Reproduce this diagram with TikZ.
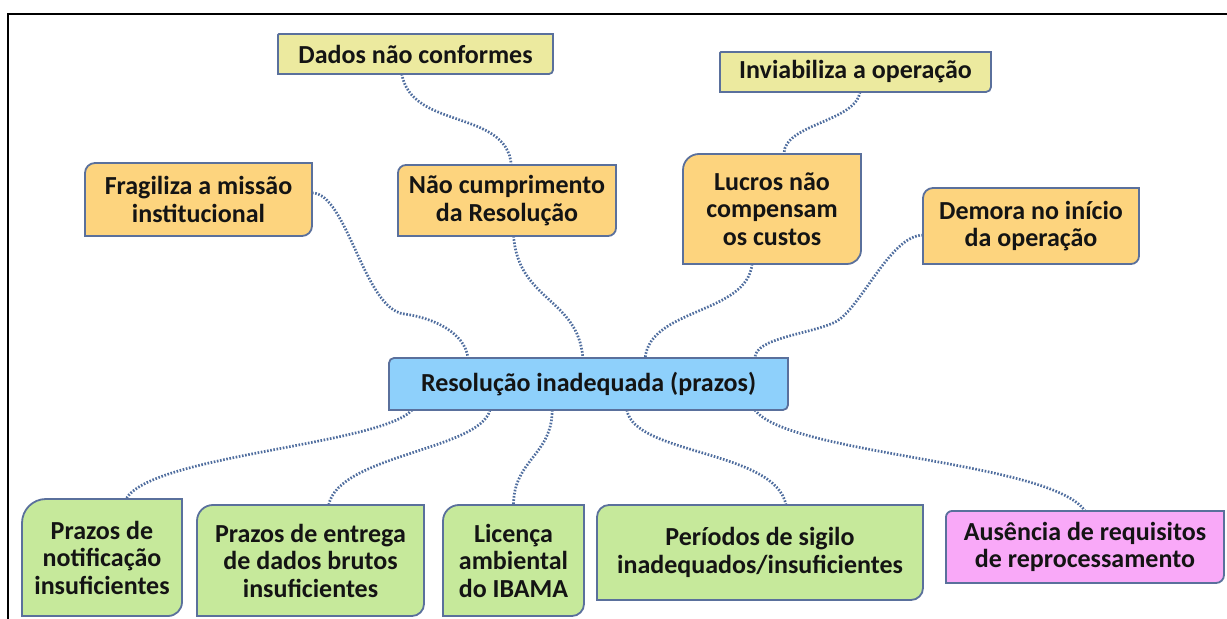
\documentclass[tikz,border=0pt]{standalone}
\usepackage{fontspec}
\setmainfont{Carlito}
\usetikzlibrary{calc,backgrounds}

\definecolor{paleyellow}{HTML}{ECEA9F}
\definecolor{softorange}{HTML}{FDD47E}
\definecolor{skyblue}{HTML}{8ED0FB}
\definecolor{leafgreen}{HTML}{C6E99B}
\definecolor{softpink}{HTML}{F9A9F8}
\definecolor{edgeblue}{HTML}{5A709C}
\definecolor{linkblue}{HTML}{4F6D9E}

% outline of a box: node, fill, top-left radius, bottom-right radius
\newcommand{\tagframe}[4]{%
	\filldraw[edge, fill=#2]
		([yshift=-#3]#1.north west) arc[start angle=180, end angle=90, radius=#3]
		-- (#1.north east) -- ([yshift=#4]#1.south east)
		arc[start angle=0, end angle=-90, radius=#4] -- (#1.south west) -- cycle;}

\begin{document}
\begin{tikzpicture}[x=0.5pt, y=-0.5pt,
		txt/.style={inner sep=0pt, outer sep=0pt, align=center, text=black!92,
			font=\fontsize{13}{13.75}\selectfont\bfseries},
		dim/.style 2 args={minimum width=#1*0.5pt, minimum height=#2*0.5pt},
		edge/.style={draw=edgeblue, line width=0.9pt},
		link/.style={draw=linkblue, line width=1.35pt, dash pattern=on 0.8pt off 0.8pt}]
		\useasboundingbox (0,0) rectangle (1227,619);
		\draw[line width=1.2pt] (8,619) -- (8,14) -- (1227,14);

		% effects
		\node[txt, dim={275}{40}]	(dados)	at (415.5,54)	{Dados não conformes};
		\node[txt, dim={271}{40}]	(invi)	at (855.5,72)	{Inviabiliza a operação};
		\node[txt, dim={227}{73}]	(frag)	at (198.5,199.5)	{Fragiliza a missão\\institucional};
		\node[txt, dim={218}{71}]	(naocump)	at (507,200.5)	{Não cumprimento\\da Resolução};
		\node[txt, dim={178}{110}]	(lucros)	at (772,209)	{Lucros não\\compensam\\os custos};
		\node[txt, dim={216}{76}]	(demora)	at (1031,226)	{Demora no início\\da operação};

		\node[txt, dim={399}{52}]	(central)	at (588.5,384)	{Resolução inadequada (prazos)};

		% causes
		\node[txt, dim={160}{117}]	(notif)	at (102,557.5)	{Prazos de\\notificação\\insuficientes};
		\node[txt, dim={227}{111}]	(entrega)	at (310.5,560.5)	{Prazos de entrega\\de dados brutos\\insuficientes};
		\node[txt, dim={141}{111}]	(licenca)	at (513.5,560.5)	{Licença\\ambiental\\do IBAMA};
		\node[txt, dim={326}{95}]	(periodos)	at (760,552.5)	{Períodos de sigilo\\inadequados/insuficientes};
		\node[txt, dim={278}{72}]	(ausencia)	at (1085,547)	{Ausência de requisitos\\de reprocessamento};

		\begin{scope}[on background layer]
			\draw[link] ($(dados.south west)!0.45!(dados.south east)$) .. controls +(10,56) and +(-5,-56) .. ($(naocump.north west)!0.52!(naocump.north east)$);
			\draw[link] ($(invi.south west)!0.517!(invi.south east)$) .. controls +(-5,30) and +(0,-30) .. ($(lucros.north west)!0.567!(lucros.north east)$);
			\draw[link] ($(frag.north east)!0.41!(frag.south east)$) .. controls +(35,0) and +(-40,-5) .. ++(92,121) .. controls +(30,4) and +(-3,-25) .. ($(central.north west)!0.198!(central.north east)$);
			\draw[link] ($(naocump.south west)!0.53!(naocump.south east)$) .. controls +(5,65) and +(-5,-60) .. ($(central.north west)!0.486!(central.north east)$);
			\draw[link] ($(lucros.south west)!0.388!(lucros.south east)$) .. controls +(-5,50) and +(5,-50) .. ($(central.north west)!0.642!(central.north east)$);
			\draw[link] ($(demora.north west)!0.62!(demora.south west)$) .. controls +(-33,0) and +(25,-12) .. ++(-88,87) .. controls +(-25,12) and +(0,-20) .. ($(central.north west)!0.917!(central.north east)$);

			\draw[link] ($(central.south west)!0.058!(central.south east)$) .. controls +(-32,35) and +(25,-44) .. ($(notif.north west)!0.65!(notif.north east)$);
			\draw[link] ($(central.south west)!0.253!(central.south east)$) .. controls +(-10,40) and +(10,-50) .. ($(entrega.north west)!0.58!(entrega.north east)$);
			\draw[link] ($(central.south west)!0.409!(central.south east)$) .. controls +(0,45) and +(0,-45) .. ($(licenca.north west)!0.5!(licenca.north east)$);
			\draw[link] ($(central.south west)!0.596!(central.south east)$) .. controls +(8,45) and +(-11,-55) .. ($(periodos.north west)!0.58!(periodos.north east)$);
			\draw[link] ($(central.south west)!0.917!(central.south east)$) .. controls +(34,45) and +(-34,-50) .. ($(ausencia.north west)!0.5!(ausencia.north east)$);

			\tagframe{dados}{paleyellow}{0.5pt}{2pt}
			\tagframe{invi}{paleyellow}{0.5pt}{2.5pt}
			\tagframe{frag}{softorange}{5pt}{5pt}
			\tagframe{naocump}{softorange}{4pt}{4pt}
			\tagframe{lucros}{softorange}{8pt}{7pt}
			\tagframe{demora}{softorange}{5pt}{4pt}
			\tagframe{central}{skyblue}{2.5pt}{2.5pt}
			\tagframe{notif}{leafgreen}{12pt}{7pt}
			\tagframe{entrega}{leafgreen}{8pt}{6pt}
			\tagframe{licenca}{leafgreen}{8pt}{6pt}
			\tagframe{periodos}{leafgreen}{6pt}{6pt}
			\tagframe{ausencia}{softpink}{3pt}{4pt}
		\end{scope}
	\end{tikzpicture}
\end{document}
